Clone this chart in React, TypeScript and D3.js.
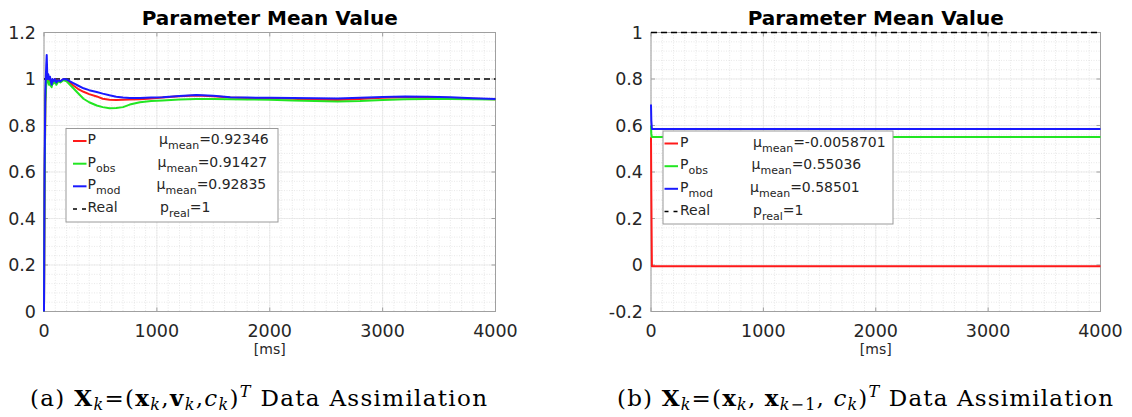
import React from "react";
import * as d3 from "d3";

// ---------- data ----------
const timeA = [0, 5, 12, 20, 24, 30, 38, 45, 53, 60, 68, 75, 85, 97, 110, 127, 145, 171, 200, 230, 260, 300, 350, 400, 467, 520, 580, 640, 700, 760, 850, 950, 1050, 1200, 1350, 1500, 1650, 1800, 2000, 2200, 2400, 2600, 2800, 3000, 3200, 3400, 3600, 3800, 4000];
const pModA = [0, 0.6, 0.95, 1.06, 1.103, 1.0, 1.02, 1.0, 1.01, 0.99, 0.975, 1.0, 0.99, 1.0, 0.985, 0.995, 0.99, 1.0, 0.998, 0.99, 0.982, 0.972, 0.96, 0.952, 0.944, 0.937, 0.93, 0.924, 0.92, 0.918, 0.918, 0.92, 0.922, 0.927, 0.931, 0.928, 0.922, 0.92, 0.919, 0.918, 0.917, 0.916, 0.919, 0.923, 0.925, 0.924, 0.921, 0.917, 0.914];
const pA = [0, 0.5, 0.9, 0.99, 1.0, 0.995, 1.0, 0.99, 1.0, 0.985, 0.98, 0.995, 0.99, 1.0, 0.985, 0.995, 0.99, 0.998, 0.995, 0.985, 0.972, 0.958, 0.945, 0.935, 0.925, 0.915, 0.911, 0.91, 0.911, 0.912, 0.913, 0.916, 0.92, 0.926, 0.929, 0.926, 0.92, 0.918, 0.917, 0.915, 0.911, 0.91, 0.914, 0.919, 0.922, 0.921, 0.918, 0.915, 0.913];
const pObsA = [0, 0.5, 0.9, 0.98, 0.99, 0.995, 0.985, 0.975, 0.99, 0.97, 0.965, 0.985, 0.98, 0.99, 0.975, 0.99, 0.985, 0.995, 0.99, 0.975, 0.96, 0.94, 0.915, 0.9, 0.886, 0.879, 0.874, 0.875, 0.879, 0.89, 0.9, 0.905, 0.908, 0.912, 0.914, 0.914, 0.913, 0.912, 0.911, 0.908, 0.905, 0.903, 0.905, 0.91, 0.913, 0.914, 0.914, 0.913, 0.912];

const timeB = [0, 3, 8, 4000];
const pB = [0.55, 0.3, -0.0058701, -0.0058701];
const pObsB = [0.6, 0.565, 0.55036, 0.55036];
const pModB = [0.69, 0.62, 0.58501, 0.58501];

const realValue = 1;

const xTicks = [0, 1000, 2000, 3000, 4000];
const xTickLabels = ["0", "1000", "2000", "3000", "4000"];
const yTicksA = [0, 0.2, 0.4, 0.6, 0.8, 1, 1.2];
const yTickLabelsA = ["0", "0.2", "0.4", "0.6", "0.8", "1", "1.2"];
const yTicksB = [-0.2, 0, 0.2, 0.4, 0.6, 0.8, 1];
const yTickLabelsB = ["-0.2", "0", "0.2", "0.4", "0.6", "0.8", "1"];

const seriesNames = ["P", "P", "P", "Real"];
const seriesSubs = ["", "obs", "mod", ""];
const meansA = ["0.92346", "0.91427", "0.92835"];
const meansB = ["-0.0058701", "0.55036", "0.58501"];
const realLabel = "1";

const COLORS = ["#ff1a1a", "#22e622", "#1a1aff"];
const FONT = "'DejaVu Sans', sans-serif";
const TXT = "#262626";

type PanelProps = {
  id: string;
  x0: number; x1: number; y0: number; y1: number;
  yDomain: [number, number];
  time: number[];
  series: number[][];
  yTicks: number[];
  yTickLabels: string[];
  means: string[];
  legend: { x: number; y: number; w: number; h: number; rows: number[]; sw: [number, number]; nameX: number; muX: number[] };
};

function Panel(p: PanelProps) {
  const x = d3.scaleLinear().domain([0, 4000]).range([p.x0, p.x1]);
  const y = d3.scaleLinear().domain(p.yDomain).range([p.y1, p.y0]);
  const line = d3.line<number>().x((_, i) => x(p.time[i])).y((v) => y(v));
  const minorX = d3.range(0, 4001, 100);
  const nMinorY = Math.round((p.yDomain[1] - p.yDomain[0]) / 0.04);
  const minorY = d3.range(0, nMinorY + 1).map((i) => p.yDomain[0] + i * 0.04);
  const cx = (p.x0 + p.x1) / 2;
  const L = p.legend;
  const tl = 4;
  return (
    <g>
      <defs>
        <clipPath id={"clip" + p.id}>
          <rect x={p.x0 - 2} y={p.y0 - 2} width={p.x1 - p.x0 + 4} height={p.y1 - p.y0 + 4} />
        </clipPath>
      </defs>
      {minorX.map((v) => (
        <line key={"mx" + v} x1={x(v)} x2={x(v)} y1={p.y0} y2={p.y1} stroke="#d8d8d8" strokeWidth={0.6} strokeDasharray="1,1.5" />
      ))}
      {minorY.map((v, i) => (
        <line key={"my" + i} x1={p.x0} x2={p.x1} y1={y(v)} y2={y(v)} stroke="#d8d8d8" strokeWidth={0.6} strokeDasharray="1,1.5" />
      ))}
      {xTicks.map((v) => (
        <line key={"gx" + v} x1={x(v)} x2={x(v)} y1={p.y0} y2={p.y1} stroke="#e2e2e2" strokeWidth={0.6} />
      ))}
      {p.yTicks.map((v) => (
        <line key={"gy" + v} x1={p.x0} x2={p.x1} y1={y(v)} y2={y(v)} stroke="#e2e2e2" strokeWidth={0.6} />
      ))}
      <rect x={p.x0} y={p.y0} width={p.x1 - p.x0} height={p.y1 - p.y0} fill="none" stroke="#a0a0a0" strokeWidth={1} />
      {xTicks.map((v) => (
        <g key={"tx" + v}>
          <line x1={x(v)} x2={x(v)} y1={p.y1} y2={p.y1 - tl} stroke="#a0a0a0" />
          <line x1={x(v)} x2={x(v)} y1={p.y0} y2={p.y0 + tl} stroke="#a0a0a0" />
        </g>
      ))}
      {p.yTicks.map((v) => (
        <g key={"ty" + v}>
          <line x1={p.x0} x2={p.x0 + tl} y1={y(v)} y2={y(v)} stroke="#a0a0a0" />
          <line x1={p.x1} x2={p.x1 - tl} y1={y(v)} y2={y(v)} stroke="#a0a0a0" />
        </g>
      ))}
      <g clipPath={`url(#clip${p.id})`}>
        <line x1={x(0)} x2={x(4000)} y1={y(realValue)} y2={y(realValue)} stroke="#000" strokeWidth={1.3} strokeDasharray="6,4" />
        {p.series.map((s, i) => (
          <path key={"s" + i} d={line(s) || ""} fill="none" stroke={COLORS[i]} strokeWidth={2} strokeLinejoin="round" />
        ))}
      </g>
      {xTicks.map((v, i) => (
        <text key={"lx" + v} x={x(v)} y={337} textAnchor="middle" fontFamily={FONT} fontSize={17.5} fill={TXT}>
          {xTickLabels[i]}
        </text>
      ))}
      {p.yTicks.map((v, i) => (
        <text key={"ly" + v} x={p.x0 - 8} y={y(v) + 6.2} textAnchor="end" fontFamily={FONT} fontSize={17.5} fill={TXT}>
          {p.yTickLabels[i]}
        </text>
      ))}
      <text x={cx} y={354} textAnchor="middle" fontFamily={FONT} fontSize={14} fill={TXT}>[ms]</text>
      <text x={cx} y={25} textAnchor="middle" fontFamily={FONT} fontSize={20} fontWeight="bold" fill="#000">Parameter Mean Value</text>
      <rect x={L.x} y={L.y} width={L.w} height={L.h} fill="#fff" stroke="#9a9a9a" strokeWidth={1} />
      {seriesNames.map((n, i) => {
        const b = L.rows[i];
        const isReal = i === 3;
        return (
          <g key={"lg" + i}>
            <line x1={L.sw[0]} x2={L.sw[1]} y1={b - 3} y2={b - 3} stroke={isReal ? "#000" : COLORS[i]} strokeWidth={isReal ? 1.3 : 2} strokeDasharray={isReal ? "4,5" : undefined} />
            <text x={L.nameX} y={b} fontFamily={FONT} fontSize={14} fill={TXT}>
              {n}
              {seriesSubs[i] ? <tspan fontSize={11} dy={5}>{seriesSubs[i]}</tspan> : null}
            </text>
            <text x={L.muX[i]} y={b} fontFamily={FONT} fontSize={14} fill={TXT}>
              {isReal ? "p" : "\u03bc"}
              <tspan fontSize={11} dy={5}>{isReal ? "real" : "mean"}</tspan>
              <tspan dy={-5}>{"=" + (isReal ? realLabel : p.means[i])}</tspan>
            </text>
          </g>
        );
      })}
    </g>
  );
}

const CAP_FONT = "'DejaVu Serif', serif";

export default function App() {
  return (
    <svg width={1132} height={417} style={{ position: "absolute", left: 0, top: 0, background: "#fff" }}>
      <rect x={0} y={0} width={1132} height={417} fill="#fff" />
      <Panel
        id="a"
        x0={44} x1={495.5} y0={32.5} y1={311.5}
        yDomain={[0, 1.2]}
        time={timeA}
        series={[pA, pObsA, pModA]}
        yTicks={yTicksA}
        yTickLabels={yTickLabelsA}
        means={meansA}
        legend={{ x: 66, y: 128.5, w: 212, h: 93.5, rows: [144, 166.7, 189.3, 212], sw: [73, 86.5], nameX: 87.5, muX: [159, 157.5, 156.5, 160] }}
      />
      <Panel
        id="b"
        x0={651} x1={1100.5} y0={32.5} y1={311.5}
        yDomain={[-0.2, 1]}
        time={timeB}
        series={[pB, pObsB, pModB]}
        yTicks={yTicksB}
        yTickLabels={yTickLabelsB}
        means={meansB}
        legend={{ x: 663, y: 131, w: 230, h: 93, rows: [146.5, 169.2, 191.8, 214.5], sw: [664.5, 678], nameX: 680, muX: [753, 751.5, 750, 753] }}
      />
      <text x={30} y={406} fontFamily={CAP_FONT} fontSize={23} fill="#000" textLength={457}>
        <tspan>(a) </tspan>
        <tspan fontWeight="bold">X</tspan>
        <tspan fontStyle="italic" fontSize={16} dy={4}>k</tspan>
        <tspan dy={-4}>=(</tspan>
        <tspan fontWeight="bold">x</tspan>
        <tspan fontStyle="italic" fontSize={16} dy={4}>k</tspan>
        <tspan dy={-4}>,</tspan>
        <tspan fontWeight="bold">v</tspan>
        <tspan fontStyle="italic" fontSize={16} dy={4}>k</tspan>
        <tspan dy={-4}>,</tspan>
        <tspan fontStyle="italic">c</tspan>
        <tspan fontStyle="italic" fontSize={16} dy={4}>k</tspan>
        <tspan dy={-4}>)</tspan>
        <tspan fontStyle="italic" fontSize={16} dy={-9}>T</tspan>
        <tspan dy={9}> Data Assimilation</tspan>
      </text>
      <text x={617} y={406} fontFamily={CAP_FONT} fontSize={23} fill="#000" textLength={496}>
        <tspan>(b) </tspan>
        <tspan fontWeight="bold">X</tspan>
        <tspan fontStyle="italic" fontSize={16} dy={4}>k</tspan>
        <tspan dy={-4}>=(</tspan>
        <tspan fontWeight="bold">x</tspan>
        <tspan fontStyle="italic" fontSize={16} dy={4}>k</tspan>
        <tspan dy={-4}>, </tspan>
        <tspan fontWeight="bold">x</tspan>
        <tspan fontStyle="italic" fontSize={16} dy={4}>k</tspan>
        <tspan fontSize={16}>{"\u22121"}</tspan>
        <tspan dy={-4}>, </tspan>
        <tspan fontStyle="italic">c</tspan>
        <tspan fontStyle="italic" fontSize={16} dy={4}>k</tspan>
        <tspan dy={-4}>)</tspan>
        <tspan fontStyle="italic" fontSize={16} dy={-9}>T</tspan>
        <tspan dy={9}> Data Assimilation</tspan>
      </text>
    </svg>
  );
}
